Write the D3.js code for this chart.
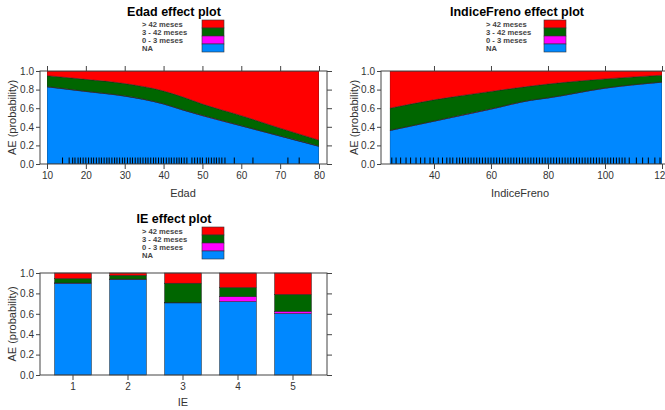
<!DOCTYPE html>
<html><head><meta charset="utf-8">
<script src="https://cdn.jsdelivr.net/npm/d3@7"></script>
<style>
body{margin:0;background:#fff;}
svg{display:block;font-family:"Liberation Sans",Arial,sans-serif;}
</style></head>
<body><svg id="c" width="665" height="410"></svg>
<script>
const levels = ["NA", "0 - 3 meses", "3 - 42 meses", "> 42 meses"];
const legendOrder = ["> 42 meses", "3 - 42 meses", "0 - 3 meses", "NA"];
const colors = {"NA":"#0088ff","0 - 3 meses":"#ff00ff","3 - 42 meses":"#006600","> 42 meses":"#ff0000"};

// Edad effect
const edadX = [10, 20, 30, 40, 45, 50, 60, 70, 80];
const edadNA = [0.83, 0.78, 0.73, 0.645, 0.58, 0.52, 0.41, 0.30, 0.19];
const edad03 = [0.003, 0.003, 0.003, 0.003, 0.003, 0.003, 0.003, 0.003, 0.003];
const edad342 = [0.117, 0.127, 0.132, 0.137, 0.137, 0.122, 0.107, 0.082, 0.063];
const edadGt42 = [0.05, 0.09, 0.135, 0.215, 0.28, 0.355, 0.48, 0.615, 0.744];
const edadRug = [14, 15.7, 16.6, 17.2, 18, 18.6, 19.3, 20, 20.7, 21.4, 22, 22.7, 23.4, 24, 24.7, 25.4, 26, 26.7, 27.4, 28, 28.7, 29.4, 30, 30.7, 31.4, 32, 32.7, 33.4, 34, 34.7, 35.4, 36, 36.7, 37.4, 38, 38.7, 39.4, 40, 40.7, 41.4, 42, 42.7, 43.4, 44, 44.6, 45.3, 46, 47.3, 48, 48.7, 49.4, 50, 51, 51.6, 52.3, 53, 53.6, 54.3, 55, 55.8, 58.2, 63, 72, 74.9];
const edadTicks = [10, 20, 30, 40, 50, 60, 70, 80];

// IndiceFreno effect
const ifX = [24.5, 40, 60, 74, 80, 100, 120];
const ifNA = [0.36, 0.46, 0.59, 0.685, 0.71, 0.815, 0.88];
const if03 = [0.003, 0.003, 0.003, 0.003, 0.003, 0.003, 0.003];
const if342 = [0.237, 0.227, 0.187, 0.15, 0.147, 0.097, 0.072];
const ifGt42 = [0.40, 0.31, 0.22, 0.162, 0.14, 0.085, 0.045];
const ifRug = [25.2, 26.7, 28.3, 30.2, 31.8, 33.7, 35.3, 36.8, 38.6, 39.8, 41.5, 43, 44.5, 45.6, 46.6, 48, 49, 50, 51, 52, 53, 54, 55, 56, 57, 58, 59, 60, 61, 62, 63, 64, 65, 66, 67, 68, 69, 70, 71, 72, 73, 74, 75, 76, 77, 78, 79, 80, 81, 82, 83, 84, 85, 86, 87, 88, 89, 90, 91, 92, 93, 94, 95, 96, 97, 98, 99, 100, 101, 102, 103, 104, 105, 106, 107, 108.5, 111, 113.2, 115.2, 117.5, 119.3];
const ifTicks = [40, 60, 80, 100, 120];

// IE effect
const ieCats = ["1", "2", "3", "4", "5"];
const ieNA = [0.90, 0.938, 0.707, 0.72, 0.603];
const ie03 = [0.002, 0.002, 0.003, 0.049, 0.022];
const ie342 = [0.043, 0.037, 0.19, 0.088, 0.165];
const ieGt42 = [0.055, 0.023, 0.10, 0.143, 0.21];

const yTicks = [0, 0.2, 0.4, 0.6, 0.8, 1.0];

const svg = d3.select("#c");
const frameCol = "#444";
const txtCol = "#333";
const tickFont = 10;

function rowsFrom(xs, a, b, c, d) {
  return xs.map((x, i) => ({x: x, "NA": a[i], "0 - 3 meses": b[i], "3 - 42 meses": c[i], "> 42 meses": d[i]}));
}

function legend(textX, boxX, top, title, titleX, titleY) {
  svg.append("text").attr("x", titleX).attr("y", titleY).attr("text-anchor", "middle")
    .attr("font-size", 12.5).attr("font-weight", "bold").attr("fill", "#000").text(title);
  legendOrder.forEach((k, i) => {
    svg.append("rect").attr("x", boxX).attr("y", top + i * 8).attr("width", 22).attr("height", 8)
      .attr("fill", colors[k]).attr("stroke", "#333").attr("stroke-width", 0.6);
    svg.append("text").attr("x", textX).attr("y", top + i * 8 + 7).attr("font-size", 7.6)
      .attr("font-weight", "bold").attr("fill", "#444").text(k);
  });
}

function styleAxis(a) {
  a.select(".domain").remove();
  a.selectAll("line").attr("stroke", frameCol);
  a.selectAll("text").attr("font-size", tickFont).attr("fill", txtCol).attr("font-family", "Liberation Sans, Arial, sans-serif");
}

function yAxisAndFrame(y, left, right, top, bottom, ylabX) {
  svg.append("rect").attr("x", left).attr("y", top).attr("width", right - left).attr("height", bottom - top)
    .attr("fill", "none").attr("stroke", frameCol).attr("stroke-width", 1);
  const la = d3.axisLeft(y).tickValues(yTicks).tickFormat(d3.format(".1f")).tickSize(4).tickPadding(2);
  const lg = svg.append("g").attr("transform", `translate(${left},0)`).call(la);
  const ra = d3.axisRight(y).tickValues(yTicks).tickFormat("").tickSize(5);
  const rg = svg.append("g").attr("transform", `translate(${right},0)`).call(ra);
  styleAxis(lg); styleAxis(rg);
  svg.append("text").attr("transform", `translate(${ylabX},${(top + bottom) / 2}) rotate(-90)`)
    .attr("text-anchor", "middle").attr("dy", "0.35em").attr("font-size", 11).attr("fill", txtCol).text("AE (probability)");
}

function areaPanel(opt) {
  const x = d3.scaleLinear().domain(opt.domain).range(opt.range);
  const y = d3.scaleLinear().domain([0, 1]).range([opt.bottom, opt.top]);
  const rows = rowsFrom(opt.xs, opt.a, opt.b, opt.c, opt.d);
  const series = d3.stack().keys(levels)(rows);
  const area = d3.area().x(d => x(d.data.x)).y0(d => y(d[0])).y1(d => y(d[1])).curve(d3.curveMonotoneX);
  const clipId = "clip" + opt.id;
  svg.append("clipPath").attr("id", clipId).append("rect")
    .attr("x", opt.range[0]).attr("y", opt.top).attr("width", opt.range[1] - opt.range[0]).attr("height", opt.bottom - opt.top);
  const g = svg.append("g").attr("clip-path", `url(#${clipId})`);
  g.selectAll("path.a").data(series).join("path").attr("class", "a")
    .attr("d", area).attr("fill", s => colors[s.key]).attr("stroke", "#222").attr("stroke-width", 0.5);
  g.selectAll("line.r").data(opt.rug).join("line").attr("class", "r")
    .attr("x1", d => x(d)).attr("x2", d => x(d)).attr("y1", opt.bottom - 6.5).attr("y2", opt.bottom)
    .attr("stroke", "#000").attr("stroke-width", 1);
  yAxisAndFrame(y, opt.left, opt.right, opt.top, opt.bottom, opt.ylabX);
  const ba = d3.axisBottom(x).tickValues(opt.ticks).tickFormat(d3.format("d")).tickSize(5).tickPadding(3);
  const bg = svg.append("g").attr("transform", `translate(0,${opt.bottom})`).call(ba);
  const ta = d3.axisTop(x).tickValues(opt.ticks).tickFormat("").tickSize(5);
  const tg = svg.append("g").attr("transform", `translate(0,${opt.top})`).call(ta);
  styleAxis(bg); styleAxis(tg);
  svg.append("text").attr("x", opt.xlabX).attr("y", opt.xlabY).attr("text-anchor", "middle")
    .attr("font-size", 11).attr("fill", txtCol).text(opt.xlab);
}

// Panel 1: Edad
legend(142, 202, 20, "Edad effect plot", 174, 16);
areaPanel({id: 1, domain: [10, 80], range: [47, 319], top: 71, bottom: 164, left: 40, right: 327,
  xs: edadX, a: edadNA, b: edad03, c: edad342, d: edadGt42, rug: edadRug, ticks: edadTicks,
  ylabX: 12, xlab: "Edad", xlabX: 183, xlabY: 197});

// Panel 2: IndiceFreno
legend(486, 544, 20, "IndiceFreno effect plot", 517, 16);
areaPanel({id: 2, domain: [24.5, 120], range: [389.8, 662], top: 71, bottom: 164, left: 381, right: 670,
  xs: ifX, a: ifNA, b: if03, c: if342, d: ifGt42, rug: ifRug, ticks: ifTicks,
  ylabX: 354, xlab: "IndiceFreno", xlabX: 520, xlabY: 197});

// Panel 3: IE
legend(142, 202, 227, "IE effect plot", 174, 223);
(function () {
  const top = 273, bottom = 375, left = 40, right = 327;
  const x = d3.scaleBand().domain(ieCats).range([45.5, 320.5]).paddingInner(0.33).paddingOuter(0.165);
  const y = d3.scaleLinear().domain([0, 1]).range([bottom, top]);
  const rows = rowsFrom(ieCats, ieNA, ie03, ie342, ieGt42);
  const series = d3.stack().keys(levels)(rows);
  svg.append("g").selectAll("g").data(series).join("g").attr("fill", s => colors[s.key])
    .selectAll("rect").data(s => s).join("rect")
    .attr("x", d => x(d.data.x)).attr("width", x.bandwidth())
    .attr("y", d => y(d[1])).attr("height", d => y(d[0]) - y(d[1]))
    .attr("stroke", "#222").attr("stroke-width", 0.5);
  yAxisAndFrame(y, left, right, top, bottom, 12);
  const ba = d3.axisBottom(x).tickSize(5).tickPadding(3);
  const bg = svg.append("g").attr("transform", `translate(0,${bottom})`).call(ba);
  styleAxis(bg);
  svg.append("text").attr("x", 183).attr("y", 406).attr("text-anchor", "middle")
    .attr("font-size", 11).attr("fill", txtCol).text("IE");
})();
</script></body></html>
